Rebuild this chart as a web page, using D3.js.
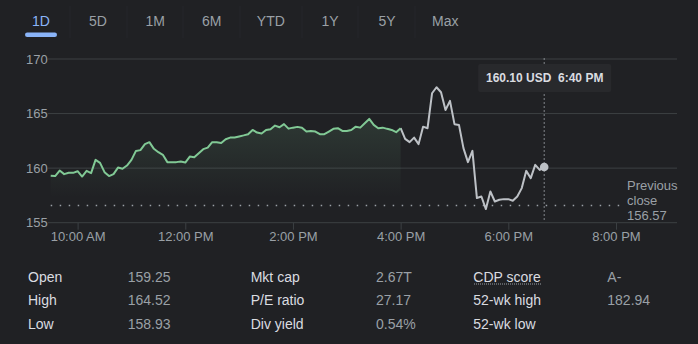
<!DOCTYPE html>
<html>
<head>
<meta charset="utf-8">
<script src="https://cdn.jsdelivr.net/npm/d3@7"></script>
<style>
  html, body { margin: 0; padding: 0; background: #202124; }
  svg { display: block; font-family: "Liberation Sans", Arial, sans-serif; }
</style>
</head>
<body>
<svg id="chart" width="698" height="344"></svg>
<script>
// ---------- DATA ----------
const tabs = ["1D", "5D", "1M", "6M", "YTD", "1Y", "5Y", "Max"];
const activeTab = "1D";

const startTime = "09:30";      // first sample
const stepMinutes = 5;          // sampling interval
const marketClose = "16:00";

// Regular session prices (9:30 AM – 4:00 PM)
const sessionPrices = [
  159.30, 159.27, 159.78, 159.45, 159.57, 159.57, 159.72, 159.23, 159.75, 159.54,
  160.76, 160.48, 159.63, 159.27, 159.45, 160.05, 159.94, 160.24, 160.76, 161.58,
  161.65, 162.20, 162.38, 161.77, 161.46, 161.22, 160.55, 160.55, 160.55, 160.60,
  160.51, 161.06, 161.00, 161.37, 161.74, 161.88, 162.38, 162.38, 162.31, 162.65,
  162.80, 162.80, 162.90, 163.00, 163.11, 163.50, 163.26, 163.17, 163.50, 163.57,
  163.90, 163.75, 164.03, 163.62, 163.71, 163.78, 163.71, 163.35, 163.41, 163.35,
  163.11, 163.11, 163.35, 163.60, 163.66, 163.41, 163.41, 163.50, 163.80, 163.71,
  164.12, 164.51, 163.96, 163.66, 163.71, 163.60, 163.50, 163.29, 163.66
];
// After-hours prices (4:05 PM – 6:40 PM)
const afterHoursPrices = [
  162.68, 162.38, 162.80, 162.20, 163.80, 163.66, 166.86, 167.41, 166.95, 165.33,
  166.16, 164.03, 163.96, 161.83, 160.55, 161.58, 157.26, 157.40, 156.25, 157.86,
  156.94, 157.10, 157.16, 157.16, 157.01, 157.40, 158.17, 159.75, 159.08, 160.30,
  159.84, 160.10
];

const previousClose = 156.57;
const yTicks = [155, 160, 165, 170];
const xTickTimes = ["10:00", "12:00", "14:00", "16:00", "18:00", "20:00"];
const xDomainTimes = ["09:30", "21:08"];
const yDomain = [155, 170];

const tooltipPrice = "160.10";
const tooltipCurrency = "USD";
const tooltipTime = "18:40";

const statLabels1 = ["Open", "High", "Low"];
const statValues1 = ["159.25", "164.52", "158.93"];
const statLabels2 = ["Mkt cap", "P/E ratio", "Div yield"];
const statValues2 = ["2.67T", "27.17", "0.54%"];
const statLabels3 = ["CDP score", "52-wk high", "52-wk low"];
const statValues3 = ["A-", "182.94", ""];

// ---------- HELPERS ----------
const parseT = d3.timeParse("%H:%M");
const t0 = parseT(startTime);
const addMin = (d, m) => d3.timeMinute.offset(d, m);

const sessionData = sessionPrices.map((p, i) => ({ t: addMin(t0, i * stepMinutes), p }));
const closeT = parseT(marketClose);
const afterData = [sessionData[sessionData.length - 1]].concat(
  afterHoursPrices.map((p, i) => ({ t: addMin(closeT, (i + 1) * stepMinutes), p }))
);

// ---------- LAYOUT ----------
const svg = d3.select("#chart");
const W = 698, H = 344;
const plotLeft = 50.7, plotRight = 677, gridLeft = 48;
const yTop = 59, yBottom = 222.7;

const x = d3.scaleTime().domain(xDomainTimes.map(parseT)).range([plotLeft, plotRight]);
const y = d3.scaleLinear().domain(yDomain).range([yBottom, yTop]);

const C = {
  bg: "#202124", grid: "#3c4043", text: "#9aa0a6", label: "#dadce0",
  green: "#81c995", gray: "#bdc1c6", blue: "#8ab4f8"
};

svg.append("rect").attr("width", W).attr("height", H).attr("fill", C.bg);

// ---------- TABS ----------
const tabX = [41, 98, 155.3, 211.7, 270.8, 330, 387, 445.3];
const tabSep = [70, 127, 183, 240, 302, 358, 415];
const tabScale = d3.scaleOrdinal().domain(tabs).range(tabX);
svg.append("g").selectAll("line").data(tabSep).join("line")
  .attr("x1", d => d).attr("x2", d => d).attr("y1", 6).attr("y2", 38)
  .attr("stroke", "#25262a").attr("stroke-width", 1);
svg.append("g").selectAll("text").data(tabs).join("text")
  .attr("x", d => tabScale(d)).attr("y", 26)
  .attr("text-anchor", "middle").attr("font-size", 14)
  .attr("fill", d => d === activeTab ? C.blue : C.text)
  .text(d => d);
svg.append("rect").attr("x", 25).attr("y", 32.5).attr("width", 32).attr("height", 4.5)
  .attr("rx", 2.2).attr("fill", C.blue);

// ---------- GRID + Y LABELS ----------
svg.append("g").selectAll("line").data(yTicks).join("line")
  .attr("x1", gridLeft).attr("x2", plotRight)
  .attr("y1", d => y(d)).attr("y2", d => y(d))
  .attr("stroke", C.grid).attr("stroke-width", 1);
svg.append("g").selectAll("text").data(yTicks).join("text")
  .attr("x", 26).attr("y", d => y(d)).attr("dy", "0.36em")
  .attr("font-size", 13).attr("fill", C.text).text(d => d);

// ---------- X AXIS ----------
const xAxis = d3.axisBottom(x)
  .tickValues(xTickTimes.map(parseT))
  .tickFormat(d3.timeFormat("%-I:%M %p"))
  .tickSizeInner(7).tickSizeOuter(0).tickPadding(2);
const gx = svg.append("g").attr("transform", `translate(0,${yBottom})`).call(xAxis);
gx.select(".domain").remove();
gx.selectAll(".tick line").attr("stroke", C.grid);
gx.selectAll(".tick text").attr("fill", C.text).attr("font-size", 13)
  .attr("font-family", "'Liberation Sans', Arial, sans-serif");

// ---------- AREA FILL ----------
const defs = svg.append("defs");
const grad = defs.append("linearGradient").attr("id", "fillGrad")
  .attr("gradientUnits", "userSpaceOnUse")
  .attr("x1", 0).attr("x2", 0).attr("y1", y(164.6)).attr("y2", y(157.3));
grad.append("stop").attr("offset", 0).attr("stop-color", C.green).attr("stop-opacity", 0.14);
grad.append("stop").attr("offset", 1).attr("stop-color", C.green).attr("stop-opacity", 0);

const area = d3.area().x(d => x(d.t)).y0(y(previousClose)).y1(d => y(d.p));
svg.append("path").datum(sessionData).attr("d", area).attr("fill", "url(#fillGrad)");

// ---------- PREVIOUS CLOSE LINE ----------
svg.append("line")
  .attr("x1", plotLeft).attr("x2", 622)
  .attr("y1", y(previousClose)).attr("y2", y(previousClose))
  .attr("stroke", C.text).attr("stroke-width", 1.5)
  .attr("stroke-dasharray", "1.5,7.5");

// ---------- LINES ----------
const line = d3.line().x(d => x(d.t)).y(d => y(d.p));
svg.append("path").datum(afterData).attr("d", line)
  .attr("fill", "none").attr("stroke", C.gray).attr("stroke-width", 2)
  .attr("stroke-linejoin", "round");
svg.append("path").datum(sessionData).attr("d", line)
  .attr("fill", "none").attr("stroke", C.green).attr("stroke-width", 2)
  .attr("stroke-linejoin", "round");

// ---------- CROSSHAIR + TOOLTIP ----------
const tt = parseT(tooltipTime);
const tx = x(tt);
svg.append("line").attr("x1", tx).attr("x2", tx).attr("y1", yTop - 1).attr("y2", 220)
  .attr("stroke", C.text).attr("stroke-width", 1).attr("stroke-dasharray", "2,2")
  .attr("opacity", 0.8);
svg.append("circle").attr("cx", tx).attr("cy", y(+tooltipPrice)).attr("r", 4.3)
  .attr("fill", C.gray);

const tipW = 133, tipH = 28;
svg.append("rect").attr("x", tx - 66).attr("y", 64).attr("width", tipW).attr("height", tipH)
  .attr("rx", 2).attr("fill", "#28292c");
svg.append("text").attr("x", tx - 66 + tipW / 2).attr("y", 78).attr("dy", "0.36em")
  .attr("text-anchor", "middle").attr("font-size", 12).attr("font-weight", "bold")
  .attr("fill", "#dadce0").attr("xml:space", "preserve")
  .text(`${tooltipPrice} ${tooltipCurrency}\u00a0\u00a0${d3.timeFormat("%-I:%M %p")(tt)}`);

// ---------- PREVIOUS CLOSE LABEL ----------
const pcText = svg.append("text").attr("x", 627).attr("font-size", 13).attr("fill", C.text);
["Previous", "close", d3.format(".2f")(previousClose)].forEach((s, i) => {
  pcText.append("tspan").attr("x", 627).attr("y", 185 + i * 15.2).attr("dy", "0.36em").text(s);
});

// ---------- STATS TABLE ----------
const rowY = [276.7, 300.2, 324.3];
const cols = [
  { lx: 28, vx: 127.7, labels: statLabels1, values: statValues1 },
  { lx: 250.7, vx: 376, labels: statLabels2, values: statValues2 },
  { lx: 473.3, vx: 607.3, labels: statLabels3, values: statValues3 }
];
cols.forEach((c, ci) => {
  const g = svg.append("g");
  g.selectAll("text.l").data(c.labels).join("text").attr("class", "l")
    .attr("x", c.lx).attr("y", (d, i) => rowY[i]).attr("dy", "0.36em")
    .attr("font-size", 14).attr("fill", C.label).text(d => d);
  g.selectAll("text.v").data(c.values).join("text").attr("class", "v")
    .attr("x", c.vx).attr("y", (d, i) => rowY[i]).attr("dy", "0.36em")
    .attr("font-size", 14).attr("fill", C.text).text(d => d);
});
// dotted underline under "CDP score"
svg.append("line").attr("x1", 474).attr("x2", 541).attr("y1", 284).attr("y2", 284)
  .attr("stroke", C.text).attr("stroke-width", 1).attr("stroke-dasharray", "1,1");
</script>
</body>
</html>
